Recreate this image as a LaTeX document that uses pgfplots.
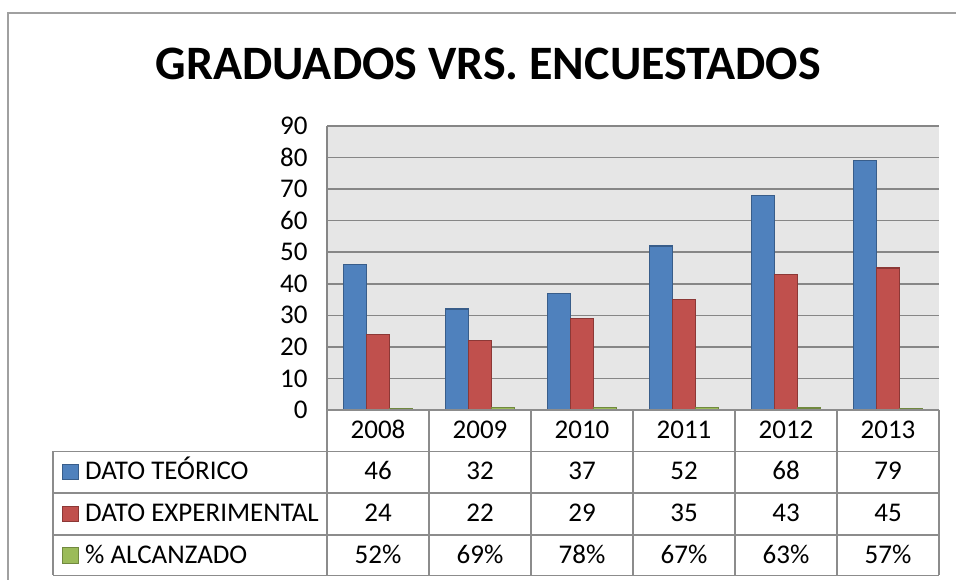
\documentclass[border=0pt]{standalone}
\usepackage{pgfplots}
\pgfplotsset{compat=1.18}
\usepackage{pgfplotstable}
\usepackage{fontspec}
\setmainfont{Carlito}
\definecolor{barblue}{HTML}{4F81BD}
\definecolor{barblueD}{HTML}{385D8A}
\definecolor{barred}{HTML}{C0504D}
\definecolor{barredD}{HTML}{8C3836}
\definecolor{bargreen}{HTML}{9BBB59}
\definecolor{bargreenD}{HTML}{71893F}
\definecolor{plotbg}{HTML}{E6E6E6}
\definecolor{gridgray}{HTML}{868686}
\definecolor{tablegray}{HTML}{8C8C8C}
\definecolor{bordergray}{HTML}{A0A0A0}
\newcommand\tabfont{\fontsize{27}{32}\selectfont}

\pgfplotstableread{
idx year teorico experimental alc pct
0 2008 46 24 0.52 52
1 2009 32 22 0.69 69
2 2010 37 29 0.78 78
3 2011 52 35 0.67 67
4 2012 68 43 0.63 63
5 2013 79 45 0.57 57
}\datatable

\begin{document}
\begin{tikzpicture}
\useasboundingbox (0pt,0pt) rectangle (956pt,580pt);
\fill[white] (0pt,0pt) rectangle (956pt,580pt);
\draw[bordergray, line width=2pt] (7.5pt,0pt) -- (7.5pt,566.5pt) -- (957pt,566.5pt);
\node[anchor=base, inner sep=0pt, font=\bfseries\fontsize{48}{57}\selectfont] at (488.5pt,500pt) {GRADUADOS VRS. ENCUESTADOS};
\begin{axis}[
  at={(327pt,170pt)}, anchor=south west,
  scale only axis, width=612pt, height=284pt,
  xmin=-0.5, xmax=5.5, ymin=0, ymax=90,
  xtick=\empty, ytick={0,10,...,90},
  ymajorgrids, grid style={gridgray, line width=1.5pt},
  axis line style={draw=none},
  major tick length=0pt,
  axis background/.style={fill=plotbg},
  tick label style={font=\tabfont},
  yticklabel style={xshift=-16pt},
  /pgf/number format/assume math mode=true,
  clip=false,
  rowtext/.style={draw=none, nodes near coords, point meta=explicit symbolic,
    nodes near coords align={center},
    every node near coord/.append style={anchor=base, font=\tabfont, inner sep=0pt, text=black}},
]
\addplot[ybar, bar width=23pt, bar shift=-23pt, fill=barblue, draw=barblueD, line width=1.2pt] table[x=idx, y=teorico] {\datatable};
\addplot[ybar, bar width=23pt, bar shift=0pt, fill=barred, draw=barredD, line width=1.2pt] table[x=idx, y=experimental] {\datatable};
\addplot[ybar, bar width=23pt, bar shift=23pt, fill=bargreen, draw=bargreenD, line width=1.2pt] table[x=idx, y=alc] {\datatable};
% data table rows
\addplot[rowtext] table[x=idx, y expr=-9.0, meta=year] {\datatable};
\addplot[rowtext] table[x=idx, y expr=-22.18, meta=teorico] {\datatable};
\addplot[rowtext] table[x=idx, y expr=-35.4, meta=experimental] {\datatable};
\addplot[rowtext, nodes near coords={\pgfplotspointmeta\%}] table[x=idx, y expr=-48.58, meta=pct] {\datatable};
\end{axis}
% left axis line
\draw[gridgray, line width=1.5pt] (327pt,170pt) -- (327pt,454pt);
% table grid
\begin{scope}[tablegray, line width=1.5pt]
\draw (327pt,170pt) -- (939pt,170pt);
\foreach \yy in {128.5,87,45,4.5} \draw (53pt,\yy pt) -- (939pt,\yy pt);
\draw (53pt,128.5pt) -- (53pt,4.5pt);
\foreach \k in {0,...,6} {
  \pgfmathsetmacro\xx{327+102*\k}
  \draw (\xx pt,170pt) -- (\xx pt,4.5pt);
}
\end{scope}
% legend keys and labels
\filldraw[fill=barblue, draw=barblueD, line width=1pt] (62.5pt,100pt) rectangle (78pt,115.5pt);
\filldraw[fill=barred, draw=barredD, line width=1pt] (62.5pt,58.3pt) rectangle (78pt,73.8pt);
\filldraw[fill=bargreen, draw=bargreenD, line width=1pt] (62.5pt,16.7pt) rectangle (78pt,32.2pt);
\node[anchor=base west, inner sep=0pt, font=\tabfont] at (85pt,100pt) {DATO TEÓRICO};
\node[anchor=base west, inner sep=0pt, font=\tabfont] at (85pt,58.3pt) {DATO EXPERIMENTAL};
\node[anchor=base west, inner sep=0pt, font=\tabfont] at (85pt,16.7pt) {\% ALCANZADO};
\end{tikzpicture}
\end{document}
